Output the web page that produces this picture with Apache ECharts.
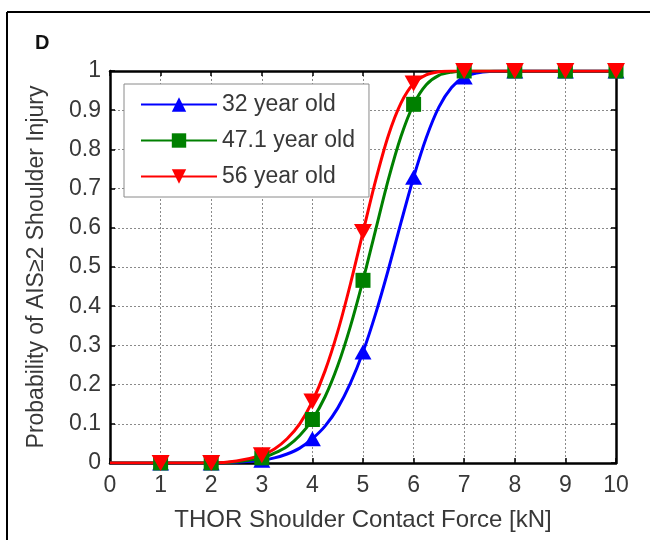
<!DOCTYPE html>
<html>
<head>
<meta charset="utf-8">
<script src="https://cdn.jsdelivr.net/npm/echarts@6/dist/echarts.min.js"></script>
<style>
  html, body { margin: 0; padding: 0; background: #fff; }
  #chart { width: 650px; height: 540px; }
</style>
</head>
<body>
<div id="chart"></div>
<script>
// force in kN, sampled where the curves bend
const force = [0, 1, 2, 2.5, 3, 3.25, 3.5, 3.75, 4, 4.25, 4.5, 4.75, 5, 5.25, 5.5, 5.75, 6, 6.25, 6.5, 6.75, 7, 7.25, 7.5, 8, 9, 10]
// markers only drawn at whole kN
const markerForce = [1, 2, 3, 4, 5, 6, 7, 8, 9, 10]

const age32 = [0, 0, 0, 0.002, 0.007, 0.013, 0.023, 0.038, 0.062, 0.094, 0.14, 0.203, 0.283, 0.381, 0.493, 0.613, 0.729, 0.83, 0.908, 0.958, 0.985, 0.995, 0.999, 1, 1, 1]
const age47 = [0, 0, 0, 0.003, 0.013, 0.025, 0.042, 0.07, 0.111, 0.169, 0.248, 0.348, 0.466, 0.595, 0.723, 0.833, 0.915, 0.965, 0.989, 0.997, 1, 1, 1, 1, 1, 1]
const age56 = [0, 0, 0, 0.005, 0.02, 0.036, 0.062, 0.1, 0.157, 0.235, 0.335, 0.456, 0.589, 0.721, 0.835, 0.918, 0.968, 0.99, 0.998, 1, 1, 1, 1, 1, 1, 1]

const seriesNames = ['32 year old', '47.1 year old', '56 year old']
const yTicks = [0, 0.1, 0.2, 0.3, 0.4, 0.5, 0.6, 0.7, 0.8, 0.9, 1]

const FONT = 'Liberation Sans, Arial, sans-serif'
const TEXT = '#383838'

function toPoints(vals) {
  return force.map((x, i) => ({
    value: [x, vals[i]],
    symbol: markerForce.includes(x) ? undefined : 'none',
  }))
}

function makeSeries(name, vals, color, symbol, size) {
  return {
    name,
    type: 'line',
    data: toPoints(vals),
    smooth: 0.3,
    symbol,
    symbolSize: size,
    showAllSymbol: true,
    lineStyle: { color, width: 3 },
    itemStyle: { color, borderWidth: 0 },
    emphasis: { disabled: true },
    animation: false,
  }
}

const downTri = 'path://M0,0 L10,0 L5,9 Z'

const chart = echarts.init(document.getElementById('chart'))

const axisCommon = {
  min: 0,
  axisLine: { show: true, onZero: false, lineStyle: { color: '#000', width: 2.5 } },
  axisTick: { show: true, inside: true, length: 5, lineStyle: { color: '#000', width: 1.5 } },
}

chart.setOption({
  backgroundColor: '#fff',
  animation: false,
  textStyle: { fontFamily: FONT },
  grid: { left: 110, right: 34, top: 71, bottom: 77 },
  graphic: [
    { type: 'line', shape: { x1: 7, y1: 12, x2: 650, y2: 12 }, style: { stroke: '#000', lineWidth: 2 } },
    { type: 'line', shape: { x1: 7, y1: 12, x2: 7, y2: 540 }, style: { stroke: '#000', lineWidth: 2 } },
    { type: 'text', left: 35, top: 33, style: { text: 'D', font: 'bold 20px ' + FONT, fill: '#111' } },
  ],
  legend: {
    data: seriesNames,
    orient: 'vertical',
    left: 124,
    top: 84,
    padding: [9, 14, 9, 16],
    itemGap: 13,
    itemWidth: 76,
    itemHeight: 18,
    backgroundColor: '#fff',
    borderColor: '#8a8a8a',
    borderWidth: 1,
    textStyle: { fontSize: 23, color: TEXT, fontFamily: FONT },
  },
  xAxis: [
    Object.assign({}, axisCommon, {
      type: 'value', max: 10, interval: 1, position: 'bottom',
      name: 'THOR Shoulder Contact Force [kN]',
      nameLocation: 'middle', nameGap: 45,
      nameTextStyle: { fontSize: 24, color: TEXT },
      axisLabel: { fontSize: 23, color: TEXT, margin: 11 },
      splitLine: { show: true, lineStyle: { color: '#8a8a8a', type: [2, 2], width: 1 } },
    }),
    Object.assign({}, axisCommon, {
      type: 'value', max: 10, interval: 1, position: 'top',
      axisLabel: { show: false }, splitLine: { show: false },
    }),
  ],
  yAxis: [
    Object.assign({}, axisCommon, {
      type: 'value', max: 1, interval: 0.1, position: 'left',
      name: 'Probability of AIS≥2 Shoulder Injury',
      nameLocation: 'middle', nameGap: 62,
      nameTextStyle: { fontSize: 23, color: TEXT },
      axisLabel: {
        fontSize: 23, color: TEXT, margin: 9,
        formatter: v => String(yTicks.find(t => Math.abs(t - v) < 1e-6) ?? ''),
      },
      splitLine: { show: true, lineStyle: { color: '#8a8a8a', type: [2, 2], width: 1 } },
    }),
    Object.assign({}, axisCommon, {
      type: 'value', max: 1, interval: 0.1, position: 'right',
      axisLabel: { show: false }, splitLine: { show: false },
    }),
  ],
  series: [
    makeSeries(seriesNames[0], age32, '#0000ff', 'triangle', [17, 15]),
    makeSeries(seriesNames[1], age47, '#008000', 'rect', 15),
    makeSeries(seriesNames[2], age56, '#ff0000', downTri, [18, 16]),
  ],
})
</script>
</body>
</html>
